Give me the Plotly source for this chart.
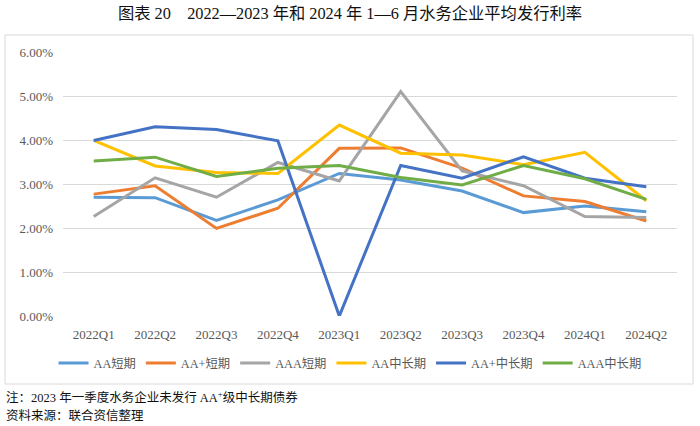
import plotly.graph_objects as go

quarters = ["2022Q1", "2022Q2", "2022Q3", "2022Q4", "2023Q1",
            "2023Q2", "2023Q3", "2023Q4", "2024Q1", "2024Q2"]

aa_short = [0.0270, 0.0269, 0.0217, 0.0264, 0.0324, 0.0309, 0.0284, 0.0235, 0.0250, 0.0237]
aap_short = [0.0277, 0.0296, 0.0199, 0.0245, 0.0381, 0.0382, 0.0336, 0.0273, 0.0260, 0.0216]
aaa_short = [0.0226, 0.0314, 0.0270, 0.0349, 0.0307, 0.0510, 0.0330, 0.0296, 0.0226, 0.0224]
aa_long = [0.0399, 0.0341, 0.0326, 0.0324, 0.0434, 0.0370, 0.0366, 0.0344, 0.0372, 0.0262]
aap_long = [0.0399, 0.0430, 0.0424, 0.0398, 0.0000, 0.0342, 0.0313, 0.0362, 0.0313, 0.0294]
aaa_long = [0.0352, 0.0361, 0.0317, 0.0336, 0.0342, 0.0315, 0.0298, 0.0342, 0.0312, 0.0265]

series_names = ["AA短期", "AA+短期", "AAA短期", "AA中长期", "AA+中长期", "AAA中长期"]
series_vals = [aa_short, aap_short, aaa_short, aa_long, aap_long, aaa_long]
colors = ["#5B9BD5", "#ED7D31", "#A5A5A5", "#FFC000", "#4472C4", "#70AD47"]

FONT = "Liberation Serif, Times New Roman, Noto Sans CJK SC"

fig = go.Figure()
for name, vals, c in zip(series_names, series_vals, colors):
    fig.add_trace(go.Scatter(x=quarters, y=vals, name=name, mode="lines",
                             line=dict(color=c, width=3)))

W, H = 700, 426
L, R, T, B = 63, 23, 52, 110
pw, ph = W - L - R, H - T - B

def px_x(x):
    return (x - L) / pw

def px_y(y):
    return (H - B - y) / ph

fig.update_layout(
    width=W, height=H,
    margin=dict(l=L, r=R, t=T, b=B, autoexpand=False),
    paper_bgcolor="white", plot_bgcolor="white",
    font=dict(family=FONT, size=13, color="#595959"),
    title=dict(text="图表 20　2022—2023 年和 2024 年 1—6 月水务企业平均发行利率",
               x=0.5, xref="container", xanchor="center",
               y=1 - 13 / H, yref="container", yanchor="middle",
               font=dict(family="Liberation Serif, Noto Sans CJK SC", size=16.3, color="#111111")),
    showlegend=True,
    legend=dict(orientation="h", xref="container", x=0.5, xanchor="center",
                yref="container", y=1 - 363 / H, yanchor="middle",
                font=dict(family=FONT, size=12.3, color="#595959"),
                bgcolor="rgba(0,0,0,0)", itemwidth=30, tracegroupgap=0),
    xaxis=dict(range=[-0.5, 9.5], showgrid=False, showline=False, ticks="", zeroline=False,
               tickfont=dict(family=FONT, size=13, color="#595959"),
               ticklabelstandoff=9, automargin=False),
    yaxis=dict(range=[0, 0.06], tickvals=[0, 0.01, 0.02, 0.03, 0.04, 0.05, 0.06],
               tickformat=".2%", showgrid=True, gridcolor="#d9d9d9", gridwidth=1,
               zeroline=False, showline=False, ticks="",
               tickfont=dict(family=FONT, size=13, color="#595959"),
               ticklabelstandoff=9, automargin=False),
)

fig.add_shape(type="rect", xref="paper", yref="paper",
              x0=px_x(5), x1=px_x(693), y0=px_y(384), y1=px_y(35),
              line=dict(color="#d9d9d9", width=1), fillcolor="rgba(0,0,0,0)", layer="below")

fig.add_annotation(text="注：2023 年一季度水务企业未发行 AA<sup>+</sup>级中长期债券",
                   xref="paper", yref="paper", x=px_x(4), y=px_y(397),
                   xanchor="left", yanchor="middle", showarrow=False,
                   font=dict(family="Liberation Serif, Noto Sans CJK SC", size=12.5, color="#111111"))
fig.add_annotation(text="资料来源：联合资信整理",
                   xref="paper", yref="paper", x=px_x(4), y=px_y(415),
                   xanchor="left", yanchor="middle", showarrow=False,
                   font=dict(family="Liberation Serif, Noto Sans CJK SC", size=12.5, color="#111111"))

fig.write_html("out.html",
               config={"displayModeBar": False},
               post_script="document.body.style.margin='0';document.body.style.overflow='hidden';")
